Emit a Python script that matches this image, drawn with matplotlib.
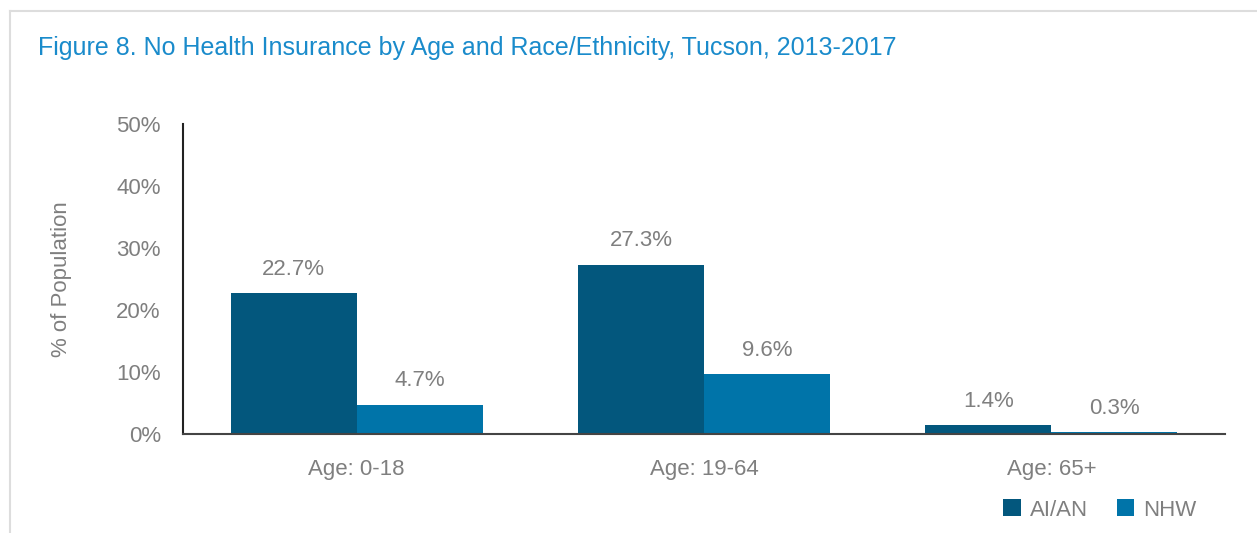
import matplotlib.pyplot as plt
import numpy as np

plt.rcParams['font.family'] = ['Liberation Sans', 'DejaVu Sans']

categories = ['Age: 0-18', 'Age: 19-64', 'Age: 65+']
aian = [22.7, 27.3, 1.4]
nhw = [4.7, 9.6, 0.3]
series = ['AI/AN', 'NHW']
colors = ['#03577D', '#0074A9']
gray = '#7F7F7F'

fig = plt.figure(figsize=(12.57, 5.33), dpi=100)
W, H = 1257, 533

# light frame around the figure panel
fig.add_artist(plt.Line2D([10 / W, 1], [1 - 11 / H, 1 - 11 / H], color='#DDDDDD', lw=1.5))
fig.add_artist(plt.Line2D([10 / W, 10 / W], [0, 1 - 11 / H], color='#DDDDDD', lw=1.5))

ax = fig.add_axes([183 / W, 1 - 434 / H, (1225 - 183) / W, (434 - 124) / H])
x = np.arange(len(categories))
w = 0.363
b1 = ax.bar(x - w / 2, aian, w, color=colors[0], label=series[0])
b2 = ax.bar(x + w / 2, nhw, w, color=colors[1], label=series[1])

for bars, vals in [(b1, aian), (b2, nhw)]:
    for r, v in zip(bars, vals):
        ax.text(r.get_x() + r.get_width() / 2, v + 2.2, f'{v}%', ha='center', va='bottom',
                fontsize=16, color=gray)

ax.set_xlim(-0.5, 2.5)
ax.set_ylim(0, 50)
ax.set_yticks(range(0, 51, 10))
ax.set_yticklabels([f'{t}%' for t in range(0, 51, 10)])
ax.set_xticks(x)
ax.set_xticklabels(categories)
ax.tick_params(axis='both', length=0, labelsize=16, labelcolor=gray)
ax.tick_params(axis='y', pad=16)
ax.tick_params(axis='x', pad=18)
ax.spines['top'].set_visible(False)
ax.spines['right'].set_visible(False)
ax.spines['left'].set_color('#222222')
ax.spines['bottom'].set_color('#444444')
ax.spines['left'].set_linewidth(1.5)
ax.spines['bottom'].set_linewidth(1.5)
ax.set_ylabel('% of Population', fontsize=16, color=gray, labelpad=32)

fig.text(38 / W, 1 - 48 / H, 'Figure 8. No Health Insurance by Age and Race/Ethnicity, Tucson, 2013-2017',
         fontsize=18, color='#1A8BCB', va='center', ha='left')

fig.legend(handles=[b1, b2], labels=series, loc='center left', bbox_to_anchor=(983 / W, 1 - 510 / H),
           ncol=2, frameon=False, fontsize=16, labelcolor=gray, handlelength=0.8, handleheight=0.8,
           columnspacing=1.3, handletextpad=0.4)

fig.savefig('out.png', dpi=100)
